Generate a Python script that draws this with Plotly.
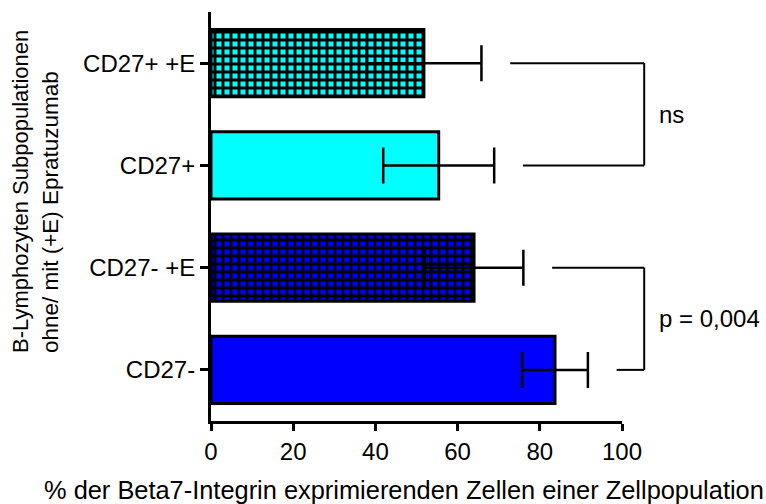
import plotly.graph_objects as go

# Data (bottom to top)
categories = ["CD27-", "CD27- +E", "CD27+", "CD27+ +E"]
means = [83.7, 64.0, 55.4, 51.8]
errors = [8.0, 12.0, 13.5, 14.0]
fill_colors = ["#0000FF", "#0000FF", "#00FFFF", "#00FFFF"]
patterns = ["", "+", "", "+"]
x_ticks = [0, 20, 40, 60, 80, 100]
# comparisons: (lower index, upper index, label)
comparisons = [(2, 3, "ns"), (0, 1, "p = 0,004")]

FONT = "Liberation Sans, Arial, Helvetica, sans-serif"
XMAX = 100
NCAT = len(categories)
pos = list(range(NCAT))

fig = go.Figure()
for i in pos:
    marker = dict(color=fill_colors[i], line=dict(color="black", width=3))
    if patterns[i]:
        marker["pattern"] = dict(shape=patterns[i], fgcolor="#000000", bgcolor=fill_colors[i],
                                 fgopacity=1, size=8, solidity=0.6, fillmode="replace")
    fig.add_trace(go.Bar(
        y=[pos[i]], x=[means[i]], orientation="h", width=0.66,
        marker=marker,
        error_x=dict(type="data", array=[errors[i]], symmetric=True,
                     color="black", thickness=2.5, width=18),
        showlegend=False, name=categories[i],
    ))

def px(v):
    return v / XMAX

def py(i):
    return (i + 0.5) / NCAT

bracket_x = 105.4
gap = 7
shapes = []
annotations = []
for lo, hi, label in comparisons:
    start_hi = means[hi] + errors[hi] + gap
    start_lo = means[lo] + errors[lo] + gap
    line = dict(color="black", width=2)
    shapes.append(dict(type="line", xref="paper", yref="paper",
                       x0=px(start_hi), x1=px(bracket_x), y0=py(hi), y1=py(hi), line=line))
    shapes.append(dict(type="line", xref="paper", yref="paper",
                       x0=px(bracket_x), x1=px(bracket_x), y0=py(hi), y1=py(lo), line=line))
    shapes.append(dict(type="line", xref="paper", yref="paper",
                       x0=px(start_lo), x1=px(bracket_x), y0=py(lo), y1=py(lo), line=line))
    annotations.append(dict(x=px(bracket_x + 3.0), y=(py(hi) + py(lo)) / 2,
                            xref="paper", yref="paper", text=label, showarrow=False,
                            xanchor="left", yanchor="middle",
                            font=dict(family=FONT, size=24, color="black")))

# axis titles
annotations.append(dict(x=0.4696, y=-0.1687, xref="paper", yref="paper",
                        text="% der Beta7-Integrin exprimierenden Zellen einer Zellpopulation",
                        showarrow=False, xanchor="center", yanchor="middle",
                        font=dict(family=FONT, size=25.4, color="black")))
annotations.append(dict(x=-0.465, y=0.562, xref="paper", yref="paper",
                        text="B-Lymphozyten Subpopulationen", textangle=-90,
                        showarrow=False, xanchor="center", yanchor="middle",
                        font=dict(family=FONT, size=22, color="black")))
annotations.append(dict(x=-0.39, y=0.51, xref="paper", yref="paper",
                        text="ohne/ mit (+E) Epratuzumab", textangle=-90,
                        showarrow=False, xanchor="center", yanchor="middle",
                        font=dict(family=FONT, size=22.5, color="black")))

fig.update_layout(
    width=766, height=504,
    margin=dict(l=211, r=144, t=12, b=83),
    plot_bgcolor="white", paper_bgcolor="white",
    font=dict(family=FONT, size=24, color="black"),
    shapes=shapes, annotations=annotations,
    barmode="overlay",
)
fig.update_xaxes(range=[0, XMAX], tickvals=x_ticks, showline=True, linecolor="black",
                 linewidth=3, ticks="outside", ticklen=7, tickwidth=3, tickcolor="black",
                 showgrid=False, zeroline=False, tickfont=dict(family=FONT, size=24))
fig.update_yaxes(range=[-0.5, NCAT - 0.5], tickvals=pos, ticktext=categories,
                 showline=True, linecolor="black", linewidth=3, ticks="outside",
                 ticklen=8, tickwidth=3, tickcolor="black", showgrid=False,
                 zeroline=False, tickfont=dict(family=FONT, size=24))

fig.write_html("out.html", config={"displayModeBar": False},
               post_script="document.body.style.margin='0';document.body.style.overflow='hidden';")
